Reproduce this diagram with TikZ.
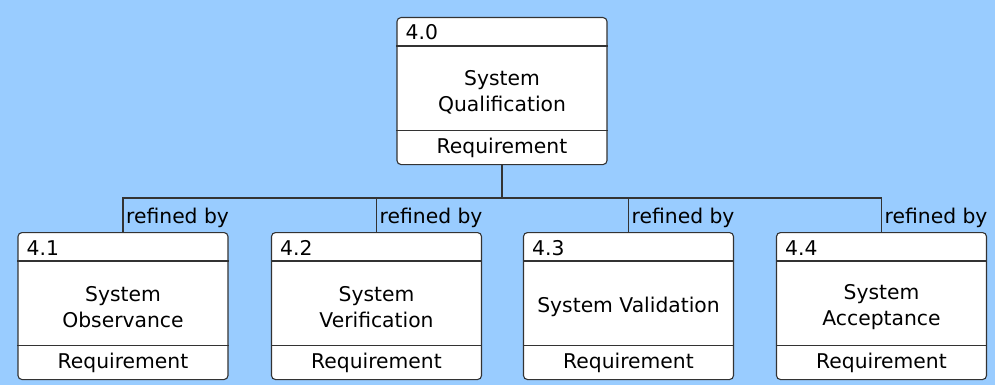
\documentclass[tikz,border=0pt]{standalone}
\usepackage{fontspec}
\setmainfont{DejaVu Sans}
\definecolor{bg}{HTML}{99CCFF}
\definecolor{ln}{HTML}{333333}
\newcommand\reqbox[5]{%
  \node[box] (#1) at (#2,#3) {};
  \draw[sep] ([yshift=-29pt]#1.north west) -- ([yshift=-29pt]#1.north east);
  \draw[sep] ([yshift=35pt]#1.south west) -- ([yshift=35pt]#1.south east);
  \node[txt, anchor=base west] (#1id) at ([xshift=9pt,yshift=-23pt]#1.north west) {#4};
  \node[txt, align=center] (#1t) at ([yshift=-1pt]#1.center) {#5};
  \node[txt] (#1f) at ([yshift=17pt]#1.south) {Requirement};
}
\begin{document}
\begin{tikzpicture}[x=1pt,y=-1pt,
  font=\fontsize{20.3}{26}\selectfont,
  box/.style={draw=ln, fill=white, line width=1.1pt, rounded corners=4pt,
    minimum width=210pt, minimum height=147pt, inner sep=0pt, anchor=north},
  sep/.style={draw=ln, line width=1.1pt},
  txt/.style={inner sep=0pt, text=black},
  conn/.style={draw=ln, line width=1.1pt},
  lbl/.style={inner sep=0pt, text=black, anchor=base west}]
\fill[bg] (0,0) rectangle (995,385);
\useasboundingbox (0,0) rectangle (995,385);
\reqbox{b40}{502}{17}{4.0}{System\\Qualification}
\reqbox{b41}{123}{232}{4.1}{System\\Observance}
\reqbox{b42}{376.5}{232}{4.2}{System\\Verification}
\reqbox{b43}{628.5}{232}{4.3}{System Validation}
\reqbox{b44}{881.5}{232}{4.4}{System\\Acceptance}
\coordinate (j) at (502,198);
\draw[conn] (b40.south) -- (j);
\draw[conn] (b41.north) -- (b41.north |- j) -- (b44.north |- j) -- (b44.north);
\draw[conn] (b42.north) -- (b42.north |- j);
\draw[conn] (b43.north) -- (b43.north |- j);
\foreach \b in {b41,b42,b43,b44}
  \node[lbl] (\b l) at ([xshift=3pt,yshift=9pt]\b.north) {refined by};
\end{tikzpicture}
\end{document}
